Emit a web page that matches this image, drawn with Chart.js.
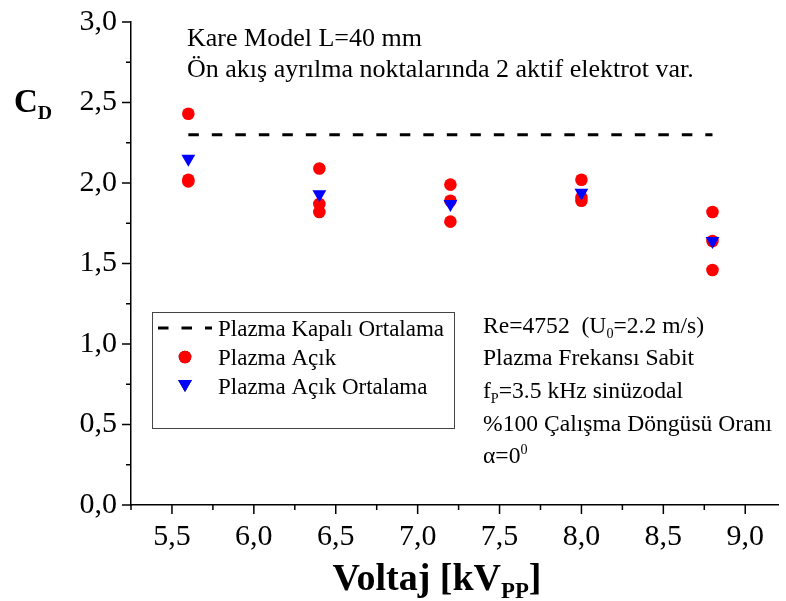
<!DOCTYPE html>
<html>
<head>
<meta charset="utf-8">
<script src="https://cdn.jsdelivr.net/npm/chart.js@4.4.1/dist/chart.umd.min.js"></script>
<style>
  html, body { margin: 0; padding: 0; background: #fff; }
  #chart { display: block; }
</style>
</head>
<body>
<canvas id="chart" width="786" height="601"></canvas>
<script>
// values
const voltaj = [5.6, 6.4, 7.2, 8.0, 8.8];
const acikOlcum1 = [2.43, 2.09, 1.99, 2.02, 1.82];
const acikOlcum2 = [2.02, 1.87, 1.89, 1.91, 1.64];
const acikOlcum3 = [2.01, 1.82, 1.76, 1.89, 1.46];
const acikOrtalama = [2.15, 1.93, 1.87, 1.94, 1.64];
const kapaliVoltaj = [5.6, 8.8];
const kapaliOrtalama = [2.30, 2.30];
const xTicks = [5.5, 6.0, 6.5, 7.0, 7.5, 8.0, 8.5, 9.0];
const yTicks = [0, 0.5, 1.0, 1.5, 2.0, 2.5, 3.0];
const seriAdlari = ['Plazma Kapalı Ortalama', 'Plazma Açık', 'Plazma Açık Ortalama'];

const FONT = "'Liberation Serif', 'Times New Roman', serif";

let noktalar = [];
[acikOlcum1, acikOlcum2, acikOlcum3].forEach(seri => {
    seri.forEach((v, i) => { if (v != null) noktalar.push({ x: voltaj[i], y: v }); });
});

function virgul(v) {
    return v.toFixed(1).replace('.', ',');
}

// text with sub / superscript parts: [text, 'n' | 'sub' | 'sup']
function yaz(ctx, x, y, parcalar, boyut, kalin) {
    let w = kalin ? 'bold ' : '';
    parcalar.forEach(p => {
        let s = boyut, dy = 0;
        if (p[1] == 'sub') { s = boyut * 0.6; dy = boyut * 0.22; }
        if (p[1] == 'sup') { s = boyut * 0.6; dy = -boyut * 0.4; }
        ctx.font = w + s + 'px ' + FONT;
        ctx.fillText(p[0], x, y + dy);
        x += ctx.measureText(p[0]).width;
    });
    return x;
}

function genislik(ctx, parcalar, boyut, kalin) {
    let w = kalin ? 'bold ' : '';
    let t = 0;
    parcalar.forEach(p => {
        let s = p[1] == 'n' ? boyut : boyut * 0.6;
        ctx.font = w + s + 'px ' + FONT;
        t += ctx.measureText(p[0]).width;
    });
    return t;
}

const ekler = {
    id: 'ekler',
    afterDraw(chart) {
        const ctx = chart.ctx;
        const xs = chart.scales.x, ys = chart.scales.y;
        const a = chart.chartArea;
        ctx.save();
        // major and minor ticks
        ctx.strokeStyle = '#000';
        ctx.lineWidth = 1.5;
        ctx.beginPath();
        xTicks.forEach((v, i) => {
            let px = xs.getPixelForValue(v);
            ctx.moveTo(px, a.bottom); ctx.lineTo(px, a.bottom + 9);
            let m = xs.getPixelForValue(v + 0.25);
            if (m < a.right) { ctx.moveTo(m, a.bottom); ctx.lineTo(m, a.bottom + 5); }
        });
        ctx.moveTo(xs.getPixelForValue(5.25), a.bottom); ctx.lineTo(xs.getPixelForValue(5.25), a.bottom + 5);
        yTicks.forEach(v => {
            let py = ys.getPixelForValue(v);
            ctx.moveTo(a.left, py); ctx.lineTo(a.left - 9, py);
            if (v < 3) {
                let m = ys.getPixelForValue(v + 0.25);
                ctx.moveTo(a.left, m); ctx.lineTo(a.left - 5, m);
            }
        });
        ctx.stroke();

        ctx.fillStyle = '#000';
        ctx.textBaseline = 'alphabetic';
        ctx.textAlign = 'left';

        // axis titles
        yaz(ctx, 14, 112, [['C', 'n'], ['D', 'sub']], 33, true);
        let baslik = [['Voltaj [kV', 'n'], ['PP', 'sub'], [']', 'n']];
        let bw = genislik(ctx, baslik, 38, true);
        yaz(ctx, 437 - bw / 2, 590, baslik, 38, true);

        // notes
        yaz(ctx, 187, 46, [['Kare Model L=40 mm', 'n']], 26);
        yaz(ctx, 187, 77, [['Ön akış ayrılma noktalarında 2 aktif elektrot var.', 'n']], 26);
        const nx = 483;
        yaz(ctx, nx, 333, [['Re=4752  (U', 'n'], ['0', 'sub'], ['=2.2 m/s)', 'n']], 23.6);
        yaz(ctx, nx, 365, [['Plazma Frekansı Sabit', 'n']], 23.6);
        yaz(ctx, nx, 398, [['f', 'n'], ['P', 'sub'], ['=3.5 kHz sinüzodal', 'n']], 23.6);
        yaz(ctx, nx, 431, [['%100 Çalışma Döngüsü Oranı', 'n']], 23.6);
        yaz(ctx, nx, 463, [['α=0', 'n'], ['0', 'sup']], 23.6);

        // legend box
        ctx.strokeStyle = '#444';
        ctx.lineWidth = 1;
        ctx.strokeRect(152.5, 312.5, 302, 116);
        const ds = chart.data.datasets;
        const satir = [336, 365, 394];
        const orta = [328, 357, 386];
        ds.forEach((d, i) => {
            ctx.fillStyle = '#000';
            yaz(ctx, 218, satir[i], [[d.label, 'n']], 23);
            if (d.showLine) {
                ctx.save();
                ctx.strokeStyle = d.borderColor;
                ctx.lineWidth = d.borderWidth;
                ctx.setLineDash(d.borderDash);
                ctx.beginPath();
                ctx.moveTo(158, orta[i]); ctx.lineTo(212, orta[i]);
                ctx.stroke();
                ctx.restore();
            } else {
                Chart.helpers.drawPoint(ctx, {
                    pointStyle: d.pointStyle, rotation: d.rotation || 0,
                    radius: d.pointRadius, borderWidth: 0
                }, 185, orta[i] - (d.pointStyle == 'triangle' ? 2 : 0));
                ctx.fillStyle = d.backgroundColor;
                ctx.fill();
            }
        });
        ctx.restore();
    }
};

new Chart(document.getElementById('chart'), {
    type: 'scatter',
    data: {
        datasets: [{
            type: 'line',
            label: seriAdlari[0],
            data: kapaliVoltaj.map((x, i) => ({ x: x, y: kapaliOrtalama[i] })),
            showLine: true,
            borderColor: '#000',
            borderWidth: 3,
            borderDash: [10.5, 13],
            pointRadius: 0,
            fill: false,
            order: 2
        }, {
            label: seriAdlari[1],
            data: noktalar,
            pointStyle: 'circle',
            pointRadius: 6.3,
            pointBorderWidth: 0,
            backgroundColor: '#ff0000',
            borderColor: '#ff0000',
            order: 1
        }, {
            label: seriAdlari[2],
            data: voltaj.map((x, i) => ({ x: x, y: acikOrtalama[i] })),
            pointStyle: 'triangle',
            rotation: 180,
            pointRotation: 180,
            pointRadius: 8,
            pointBorderWidth: 0,
            backgroundColor: '#0000ff',
            borderColor: '#0000ff',
            order: 0
        }]
    },
    options: {
        responsive: false,
        animation: false,
        devicePixelRatio: 1,
        layout: { padding: { left: 0, right: 5, top: 22, bottom: 0 } },
        plugins: {
            legend: { display: false },
            tooltip: { enabled: false }
        },
        scales: {
            x: {
                type: 'linear',
                min: 5.25,
                max: 9.2,
                afterBuildTicks: s => { s.ticks = xTicks.map(v => ({ value: v })); },
                afterFit: s => { s.height = 96; s.paddingLeft = 0; s.paddingRight = 0; },
                grid: { display: false, drawTicks: false },
                border: { display: true, color: '#000', width: 1.5 },
                ticks: {
                    color: '#000',
                    padding: 14,
                    maxRotation: 0,
                    font: { family: FONT, size: 30 },
                    callback: v => virgul(v)
                }
            },
            y: {
                min: 0,
                max: 3,
                afterBuildTicks: s => { s.ticks = yTicks.map(v => ({ value: v })); },
                afterFit: s => { s.width = 131; s.paddingTop = 0; s.paddingBottom = 0; },
                grid: { display: false, drawTicks: false },
                border: { display: true, color: '#000', width: 1.5 },
                ticks: {
                    color: '#000',
                    padding: 14,
                    font: { family: FONT, size: 30 },
                    callback: v => virgul(v)
                }
            }
        }
    },
    plugins: [ekler]
});
</script>
</body>
</html>
